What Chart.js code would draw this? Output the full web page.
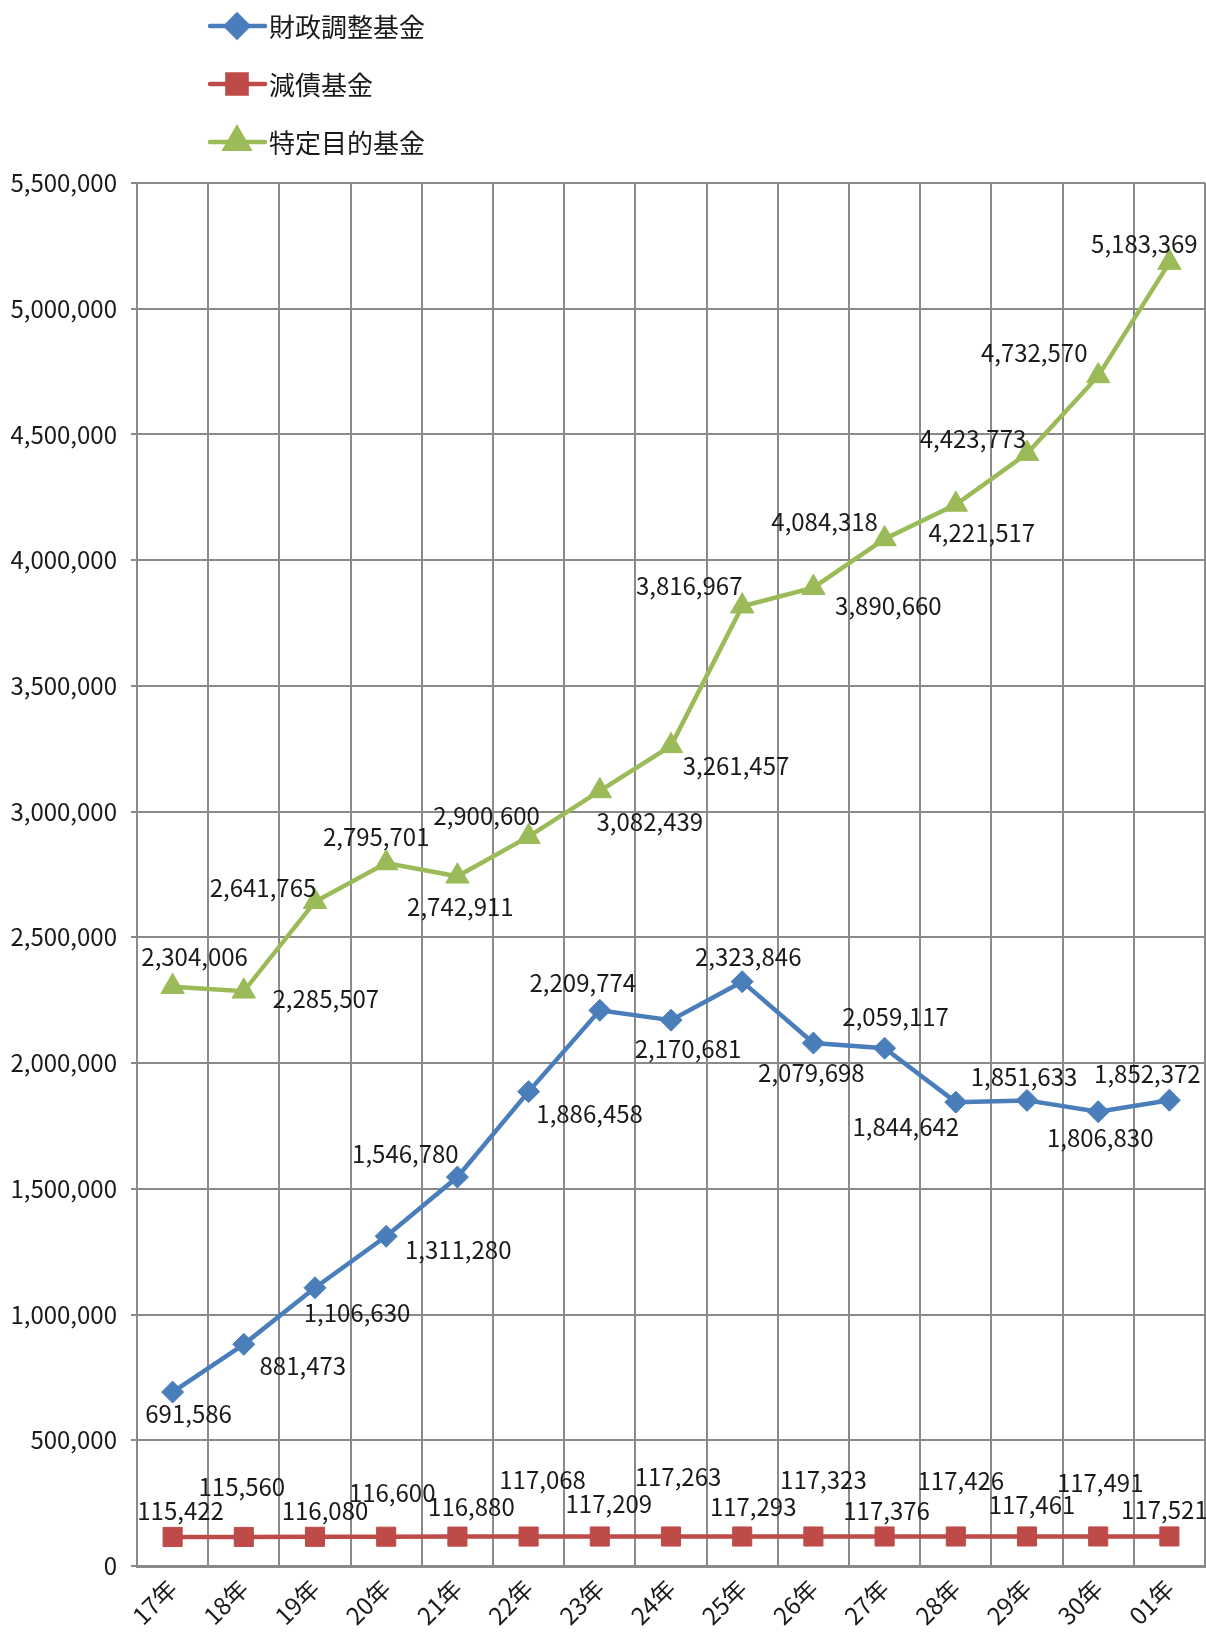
<!DOCTYPE html>
<html lang="ja">
<head>
<meta charset="UTF-8">
<title>基金残高の推移</title>
<script src="https://cdn.jsdelivr.net/npm/chart.js@4.4.1/dist/chart.umd.min.js"></script>
<style>
  body { margin: 0; background: #fff; }
  #wrap { width: 1206px; height: 1635px; }
</style>
</head>
<body>
<div id="wrap"><canvas id="fund-chart" width="1206" height="1635"></canvas></div>
<script>
const years = ["17年", "18年", "19年", "20年", "21年", "22年", "23年", "24年", "25年", "26年", "27年", "28年", "29年", "30年", "01年"];

const zaiseiChousei = [691586, 881473, 1106630, 1311280, 1546780, 1886458, 2209774, 2170681, 2323846, 2079698, 2059117, 1844642, 1851633, 1806830, 1852372];
const gensai = [115422, 115560, 116080, 116600, 116880, 117068, 117209, 117263, 117293, 117323, 117376, 117426, 117461, 117491, 117521];
const tokuteiMokuteki = [2304006, 2285507, 2641765, 2795701, 2742911, 2900600, 3082439, 3261457, 3816967, 3890660, 4084318, 4221517, 4423773, 4732570, 5183369];

const yMax = 5500000;
const yStep = 500000;

// where each value label sits relative to its marker (px), like the hand-placed excel labels
const blueLabelPos = [[16,22],[59,22],[42,25],[72,14],[-52,-23],[61,22],[-17,-27],[17,29],[6,-25],[-2,30],[11,-31],[-50,25],[-3,-24],[2,26],[-22,-26]];
const redLabelPos = [[8,-26],[-2,-50],[10,-26],[6,-44],[14,-30],[14,-57],[9,-33],[7,-60],[11,-30],[10,-57],[2,-26],[5,-56],[5,-32],[2,-54],[-5,-27]];
const greenLabelPos = [[22,-30],[82,8],[-52,-14],[-10,-26],[3,31],[-42,-21],[50,31],[65,20],[-53,-20],[75,18],[-60,-17],[26,28],[-54,-15],[-64,-23],[-25,-19]];

const FONT = '"Noto Sans CJK JP", "Noto Sans", sans-serif';
const TEXT = '#1a1a1a';
const GRID = '#8a8a8a';

const valueLabels = {
    id: 'valueLabels',
    afterDatasetsDraw(chart) {
        const ctx = chart.ctx;
        ctx.save();
        ctx.font = '24px ' + FONT;
        ctx.fillStyle = TEXT;
        ctx.textAlign = 'center';
        ctx.textBaseline = 'middle';
        chart.data.datasets.forEach((ds, i) => {
            const meta = chart.getDatasetMeta(i);
            meta.data.forEach((pt, j) => {
                const off = ds.labelPos[j];
                ctx.fillText(ds.data[j].toLocaleString('en-US'), pt.x + off[0], pt.y + off[1]);
            });
        });
        ctx.restore();
    }
};

const lineLegend = {
    id: 'lineLegend',
    afterDraw(chart) {
        const ctx = chart.ctx;
        const rows = [26, 84, 142];
        ctx.save();
        chart.data.datasets.forEach((ds, i) => {
            const y = rows[i];
            ctx.strokeStyle = ds.borderColor;
            ctx.lineWidth = ds.borderWidth;
            ctx.lineCap = 'round';
            ctx.beginPath();
            ctx.moveTo(210, y);
            ctx.lineTo(265, y);
            ctx.stroke();
            ctx.fillStyle = ds.pointBackgroundColor;
            ctx.strokeStyle = ds.pointBackgroundColor;
            Chart.helpers.drawPoint(ctx, {
                pointStyle: ds.pointStyle,
                radius: ds.pointRadius,
                rotation: 0,
                borderWidth: 1
            }, 237, y);
            ctx.fillStyle = TEXT;
            ctx.font = '26px ' + FONT;
            ctx.textAlign = 'left';
            ctx.textBaseline = 'middle';
            ctx.fillText(ds.label, 269, y + 1);
        });
        ctx.restore();
    }
};

function series(label, data, color, style, radius, labelPos) {
    return {
        label: label,
        data: data,
        borderColor: color,
        backgroundColor: color,
        pointBackgroundColor: color,
        pointBorderColor: color,
        borderWidth: 4.5,
        pointStyle: style,
        pointRadius: radius,
        pointHoverRadius: radius,
        pointBorderWidth: 1,
        tension: 0,
        fill: false,
        labelPos: labelPos
    };
}

new Chart(document.getElementById('fund-chart'), {
    type: 'line',
    data: {
        labels: years,
        datasets: [
            series('財政調整基金', zaiseiChousei, '#4a7ebb', 'rectRot', 11, blueLabelPos),
            series('減債基金', gensai, '#be4b48', 'rect', 13.5, redLabelPos),
            series('特定目的基金', tokuteiMokuteki, '#9bbb59', 'triangle', 13.5, greenLabelPos)
        ]
    },
    options: {
        responsive: false,
        animation: false,
        layout: { autoPadding: false, padding: { top: 183, right: 1, left: 0, bottom: 0 } },
        plugins: {
            legend: { display: false },
            tooltip: { enabled: false }
        },
        scales: {
            x: {
                offset: true,
                grid: { offset: true, color: GRID, lineWidth: 2, drawTicks: false },
                border: { display: true, color: GRID, width: 3 },
                ticks: {
                    color: TEXT,
                    font: { family: FONT, size: 24 },
                    minRotation: 45,
                    maxRotation: 45,
                    padding: 8
                },
                afterFit(scale) {
                    scale.height = 69;
                    scale.paddingLeft = 0;
                    scale.paddingRight = 0;
                }
            },
            y: {
                min: 0,
                max: yMax,
                grid: { color: GRID, lineWidth: 2, tickLength: 6 },
                border: { display: true, color: GRID, width: 2 },
                ticks: {
                    stepSize: yStep,
                    color: TEXT,
                    font: { family: FONT, size: 24 },
                    padding: 14,
                    callback: v => v.toLocaleString('en-US')
                },
                afterFit(scale) {
                    scale.width = 137;
                    scale.paddingTop = 0;
                    scale.paddingBottom = 0;
                }
            }
        }
    },
    plugins: [valueLabels, lineLegend]
});
</script>
</body>
</html>
